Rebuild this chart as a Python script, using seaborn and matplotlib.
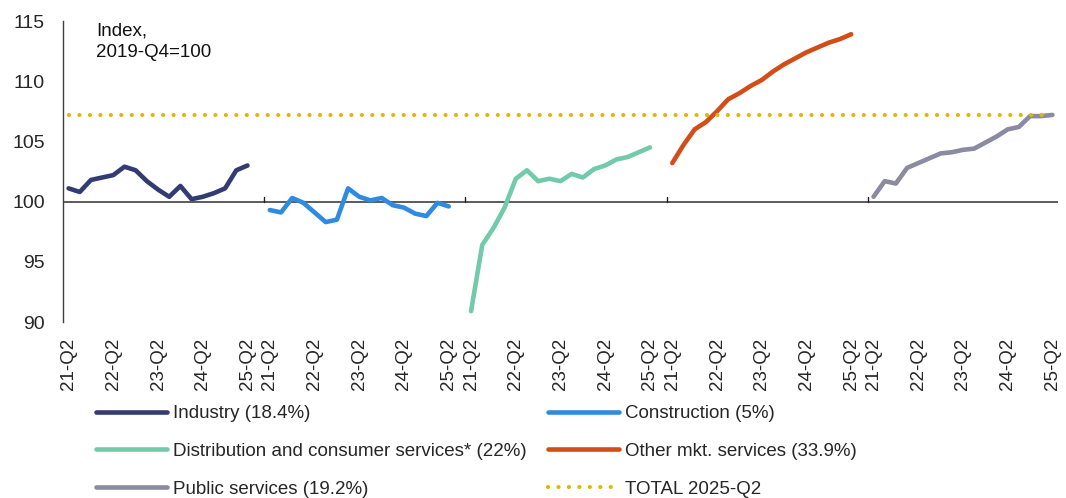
import seaborn as sns
import matplotlib.pyplot as plt
import pandas as pd

sns.set_theme(style="white")
plt.rcParams["font.family"] = ["Liberation Sans", "DejaVu Sans"]

# quarterly values, 21-Q2 .. 25-Q2 (index, 2019-Q4 = 100)
industry = [101.1, 100.8, 101.8, 102.0, 102.2, 102.9, 102.6, 101.7, 101.0, 100.4, 101.3, 100.2, 100.4, 100.7, 101.1, 102.6, 103.0]
construction = [99.3, 99.1, 100.3, 99.9, 99.1, 98.3, 98.5, 101.1, 100.4, 100.1, 100.3, 99.7, 99.5, 99.0, 98.8, 99.9, 99.6]
distribution = [90.9, 96.4, 97.8, 99.5, 101.9, 102.6, 101.7, 101.9, 101.7, 102.3, 102.0, 102.7, 103.0, 103.5, 103.7, 104.1, 104.5]
other_mkt = [103.2, 104.7, 106.0, 106.6, 107.5, 108.5, 109.0, 109.6, 110.1, 110.8, 111.4, 111.9, 112.4, 112.8, 113.2, 113.5, 113.9]
public = [100.4, 101.7, 101.5, 102.8, 103.2, 103.6, 104.0, 104.1, 104.3, 104.4, 104.9, 105.4, 106.0, 106.2, 107.1, 107.1, 107.2]
total_2025q2 = 107.2

series_names = ["Industry (18.4%)", "Construction (5%)", "Distribution and consumer services* (22%)",
                "Other mkt. services (33.9%)", "Public services (19.2%)"]
series_values = [industry, construction, distribution, other_mkt, public]
colours = ["#333B73", "#2E8BE0", "#71CBAA", "#D24D17", "#8A8AA2"]
total_name = "TOTAL 2025-Q2"
total_colour = "#E3B505"
tick_labels = ["21-Q2", "22-Q2", "23-Q2", "24-Q2", "25-Q2"]

n = len(industry)
slot = n + 1  # one empty slot between panels
rows = []
for s, (name, vals) in enumerate(zip(series_names, series_values)):
    for i, v in enumerate(vals):
        rows.append({"x": s * slot + i, "value": v, "series": name})
df = pd.DataFrame(rows)
last_x = (len(series_names) - 1) * slot + n - 1

fig = plt.figure(figsize=(10.66, 4.98), dpi=100)
ax = fig.add_axes([63 / 1066, 1 - 322 / 498, 995 / 1066, 301 / 498])

for name, col in zip(series_names, colours):
    sub = df[df["series"] == name]
    sns.lineplot(data=sub, x="x", y="value", color=col, lw=3.3, label=name, ax=ax,
                 solid_capstyle="round", zorder=3)

tot = pd.DataFrame({"x": range(0, last_x + 1), "value": total_2025q2})
sns.lineplot(data=tot, x="x", y="value", color=total_colour, lw=3.0, label=total_name, ax=ax,
             dashes=False, zorder=4)
ax.lines[-1].set_linestyle((0, (0.01, 2.5)))
ax.lines[-1].set_dash_capstyle("round")

# axis line at 100 and panel separators
ax.axhline(100, color="#404040", lw=1.2, zorder=2)
for s in range(1, len(series_names)):
    ax.plot([s * slot - 0.5] * 2, [100, 100.4], color="#202020", lw=1.0, zorder=2)

ax.set_xlim(-0.5, last_x + 0.5)
ax.set_ylim(90, 115)
ax.set_yticks(range(90, 116, 5))
ax.tick_params(axis="y", direction="in", length=5, width=1, color="#404040", labelsize=14, pad=13)

xt, xl = [], []
for s in range(len(series_names)):
    for k, lab in enumerate(tick_labels):
        xt.append(s * slot + 4 * k)
        xl.append(lab)
ax.set_xticks(xt)
ax.set_xticklabels(xl, rotation=90, fontsize=13.5)
ax.tick_params(axis="x", length=0, pad=11)
ax.set_xlabel("")
ax.set_ylabel("")

for sp in ["top", "right", "bottom"]:
    ax.spines[sp].set_visible(False)
ax.spines["left"].set_color("#404040")
ax.spines["left"].set_linewidth(1.0)

ax.text(0.033, 0.995, "Index,\n2019-Q4=100", transform=ax.transAxes, ha="left", va="top",
        fontsize=13.5, linespacing=1.35, color="#111111")

handles, labels = ax.get_legend_handles_labels()
ax.get_legend().remove()
leg_kw = dict(frameon=False, fontsize=13.5, handlelength=3.8, handletextpad=0.3, labelspacing=1.1,
              borderpad=0, borderaxespad=0, loc="upper left", bbox_transform=fig.transFigure)
left = fig.legend([handles[i] for i in (0, 2, 4)], [labels[i] for i in (0, 2, 4)],
                  bbox_to_anchor=(96 / 1066, 1 - 405 / 498), **leg_kw)
right = fig.legend([handles[i] for i in (1, 3, 5)], [labels[i] for i in (1, 3, 5)],
                   bbox_to_anchor=(548 / 1066, 1 - 405 / 498), **leg_kw)

plt.savefig("out.png", dpi=100)
